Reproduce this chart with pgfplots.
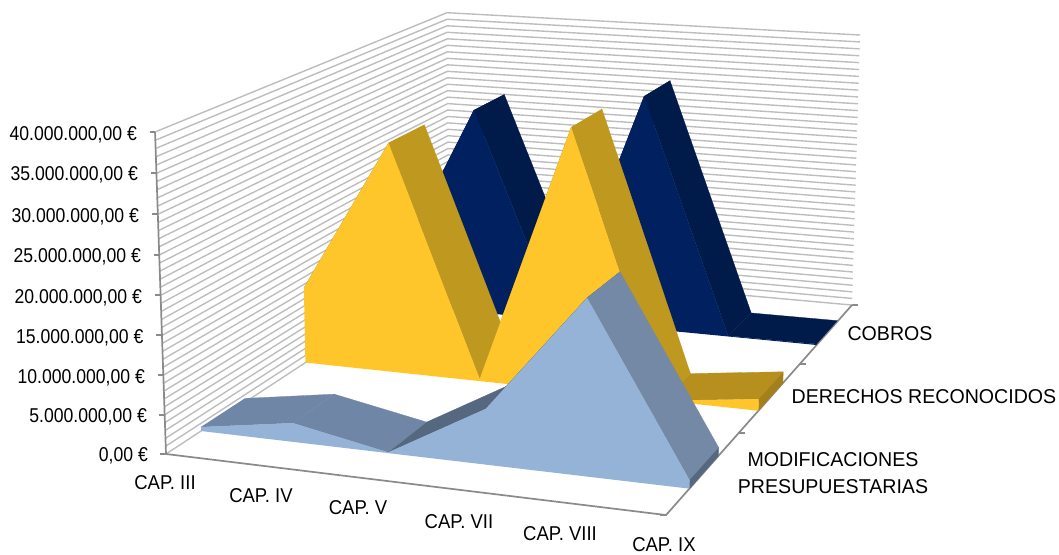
\documentclass[border=0pt]{standalone}
\usepackage{fontspec}
\setmainfont{Liberation Sans}
\usepackage{pgfplots}
\usepackage{pgfplotstable}
\pgfplotsset{compat=1.18}

\definecolor{axisgray}{HTML}{8A8A8A}
\definecolor{gridgray}{HTML}{BDBDBD}
\definecolor{navyF}{HTML}{002060}
\definecolor{navyS}{HTML}{001A4A}
\definecolor{goldF}{HTML}{FFC62B}
\definecolor{goldS}{HTML}{BF981F}
\definecolor{goldT}{HTML}{B78F1E}
\definecolor{goldC}{HTML}{A3801A}
\definecolor{blueF}{HTML}{95B3D7}
\definecolor{blueS}{HTML}{7489A6}
\definecolor{blueL}{HTML}{6F86A6}
\definecolor{blueD}{HTML}{55687F}

% c = category 0..5, v = millions of euros; last two rows close the face on the floor
\pgfplotstableread{
c v
0 5.5
1 29.9
2 0.2
3 33.5
4 0.1
5 0.15
5 0
0 0
}\cobros
\pgfplotstableread{
c v
0 10.5
1 31.4
2 0.3
3 35.2
4 0
5 1.55
5 0
0 0
}\derechos
\pgfplotstableread{
c v
0 0.53
1 2.44
2 0.1
3 7.0
4 21.9
5 1.06
5 0
0 0
}\modif

% perspective of the Excel 3-D box, from (c, depth, v) to image pixels
\pgfplotsset{
  /pgfplots/table/persp/.style={
    x expr={(166+90.76*\thisrow{c}+405.2*#1-0.3875*\thisrow{v})/(1-0.01388*\thisrow{c}+0.2725*#1-0.000733*\thisrow{v})},
    y expr={(454+5.06*\thisrow{c}-112.3*#1-8.1475*\thisrow{v})/(1-0.01388*\thisrow{c}+0.2725*#1-0.000733*\thisrow{v})},
  },
  /pgfplots/table/persp3/.style={
    x expr={(166+90.76*\thisrow{c}+405.2*\thisrow{w}-0.3875*\thisrow{v})/(1-0.01388*\thisrow{c}+0.2725*\thisrow{w}-0.000733*\thisrow{v})},
    y expr={(454+5.06*\thisrow{c}-112.3*\thisrow{w}-8.1475*\thisrow{v})/(1-0.01388*\thisrow{c}+0.2725*\thisrow{w}-0.000733*\thisrow{v})},
  },
}
% top strip of one segment: c0 v0 c1 v1 front back colour
\newcommand{\strip}[7]{
  \addplot[fill=#7,draw=#7,line width=0.3pt] table[row sep=\\,persp3]
    {c w v\\ #1 #5 #2\\ #3 #5 #4\\ #3 #6 #4\\ #1 #6 #2\\};
}
\newcommand{\lab}[3]{\node[font=\fontsize{20}{23}\selectfont,text=black,inner sep=0pt,#1] at (axis cs:#2) {#3};}

\begin{document}
\begin{tikzpicture}
\useasboundingbox (0,0) rectangle (1059pt,554pt);
\begin{axis}[
    at={(0,0)},anchor=south west,
    width=1059pt,height=554pt,scale only axis,
    xmin=0,xmax=1059,ymin=0,ymax=554,y dir=reverse,
    hide axis,clip=false,no marks,
  ]
  % walls
  \pgfplotsinvokeforeach{0,...,40}{
    \addplot[gridgray,line width=1.4pt] table[row sep=\\,persp3]
      {c w v\\ 0 0 #1\\ 0 1 #1\\ 5 1 #1\\};
  }
  % axes
  \addplot[axisgray,line width=1.7pt] table[row sep=\\,persp3]
    {c w v\\ 0 0 40\\ 0 0 0\\ 5 0 0\\ 5 1 0\\};
  \addplot[axisgray,line width=1.7pt] coordinates {(149.5,132) (155,132)};
  \addplot[axisgray,line width=1.7pt] coordinates {(151,173) (157,173)};
  \addplot[axisgray,line width=1.7pt] coordinates {(152,214) (158,214)};
  \addplot[axisgray,line width=1.7pt] coordinates {(154,255) (160,255)};
  \addplot[axisgray,line width=1.7pt] coordinates {(155,295) (161,295)};
  \addplot[axisgray,line width=1.7pt] coordinates {(156,335) (162,335)};
  \addplot[axisgray,line width=1.7pt] coordinates {(158,375) (164,375)};
  \addplot[axisgray,line width=1.7pt] coordinates {(159,415) (165,415)};
  \addplot[axisgray,line width=1.7pt] coordinates {(160,454) (166,454)};
  \addplot[axisgray,line width=1.7pt] coordinates {(739,433) (745,433)};
  \addplot[axisgray,line width=1.7pt] coordinates {(800,364) (806,364)};
  \addplot[axisgray,line width=1.7pt] coordinates {(852,305) (858,305)};
  \addplot[axisgray,line width=1.7pt] coordinates {(660,515) (666,515)};

  % COBROS
  \strip{0}{5.5}{1}{29.9}{0.767}{0.9}{navyS}
  \strip{1}{29.9}{2}{0.2}{0.767}{0.9}{navyS}
  \strip{2}{0.2}{3}{33.5}{0.767}{0.9}{navyS}
  \strip{3}{33.5}{4}{0.1}{0.767}{0.9}{navyS}
  \strip{4}{0.1}{5}{0.15}{0.767}{0.9}{navyS}
  \addplot[fill=navyF,draw=none] table[persp=0.767] {\cobros};

  % DERECHOS RECONOCIDOS
  \strip{0}{10.5}{1}{31.4}{0.433}{0.567}{goldS}
  \strip{1}{31.4}{2}{0.3}{0.433}{0.567}{goldS}
  \strip{2}{0.3}{3}{35.2}{0.433}{0.567}{goldS}
  \strip{3}{35.2}{4}{0}{0.433}{0.567}{goldS}
  \strip{4}{0}{5}{1.55}{0.433}{0.567}{goldT}
  \strip{5}{1.55}{5}{0}{0.433}{0.567}{goldC}
  \addplot[fill=goldF,draw=none] table[persp=0.433] {\derechos};

  % MODIFICACIONES PRESUPUESTARIAS
  \strip{0}{0.53}{1}{2.44}{0.1}{0.233}{blueL}
  \strip{1}{2.44}{2}{0.1}{0.1}{0.233}{blueL}
  \strip{2}{0.1}{3}{7.0}{0.1}{0.233}{blueD}
  \strip{3}{7.0}{4}{21.9}{0.1}{0.233}{blueD}
  \strip{4}{21.9}{5}{1.06}{0.1}{0.233}{blueS}
  \strip{5}{1.06}{5}{0}{0.1}{0.233}{blueD}
  \addplot[fill=blueF,draw=none] table[persp=0.1] {\modif};

  % value labels
  \lab{anchor=base east,xscale=0.88}{137,140.7}{40.000.000,00 €}
  \lab{anchor=base east,xscale=0.88}{138,180.7}{35.000.000,00 €}
  \lab{anchor=base east,xscale=0.88}{139,222.7}{30.000.000,00 €}
  \lab{anchor=base east,xscale=0.88}{141,262.7}{25.000.000,00 €}
  \lab{anchor=base east,xscale=0.88}{142,303.7}{20.000.000,00 €}
  \lab{anchor=base east,xscale=0.88}{143.5,343.7}{15.000.000,00 €}
  \lab{anchor=base east,xscale=0.88}{145,383.7}{10.000.000,00 €}
  \lab{anchor=base east,xscale=0.88}{147,422.7}{5.000.000,00 €}
  \lab{anchor=base east,xscale=0.88}{148,461.7}{0,00 €}
  % category labels
  \lab{xscale=0.925}{165,482.5}{CAP. III}
  \lab{xscale=0.925}{261,495.5}{CAP. IV}
  \lab{xscale=0.925}{358,507.5}{CAP. V}
  \lab{xscale=0.925}{459,521.5}{CAP. VII}
  \lab{xscale=0.925}{560,533.5}{CAP. VIII}
  \lab{xscale=0.925}{664,544.5}{CAP. IX}
  % series labels
  \lab{xscale=0.98}{890,334}{COBROS}
  \lab{xscale=0.98}{924,397}{DERECHOS RECONOCIDOS}
  \lab{xscale=0.98}{833,460}{MODIFICACIONES}
  \lab{xscale=0.98}{833,487}{PRESUPUESTARIAS}
\end{axis}
\end{tikzpicture}
\end{document}
